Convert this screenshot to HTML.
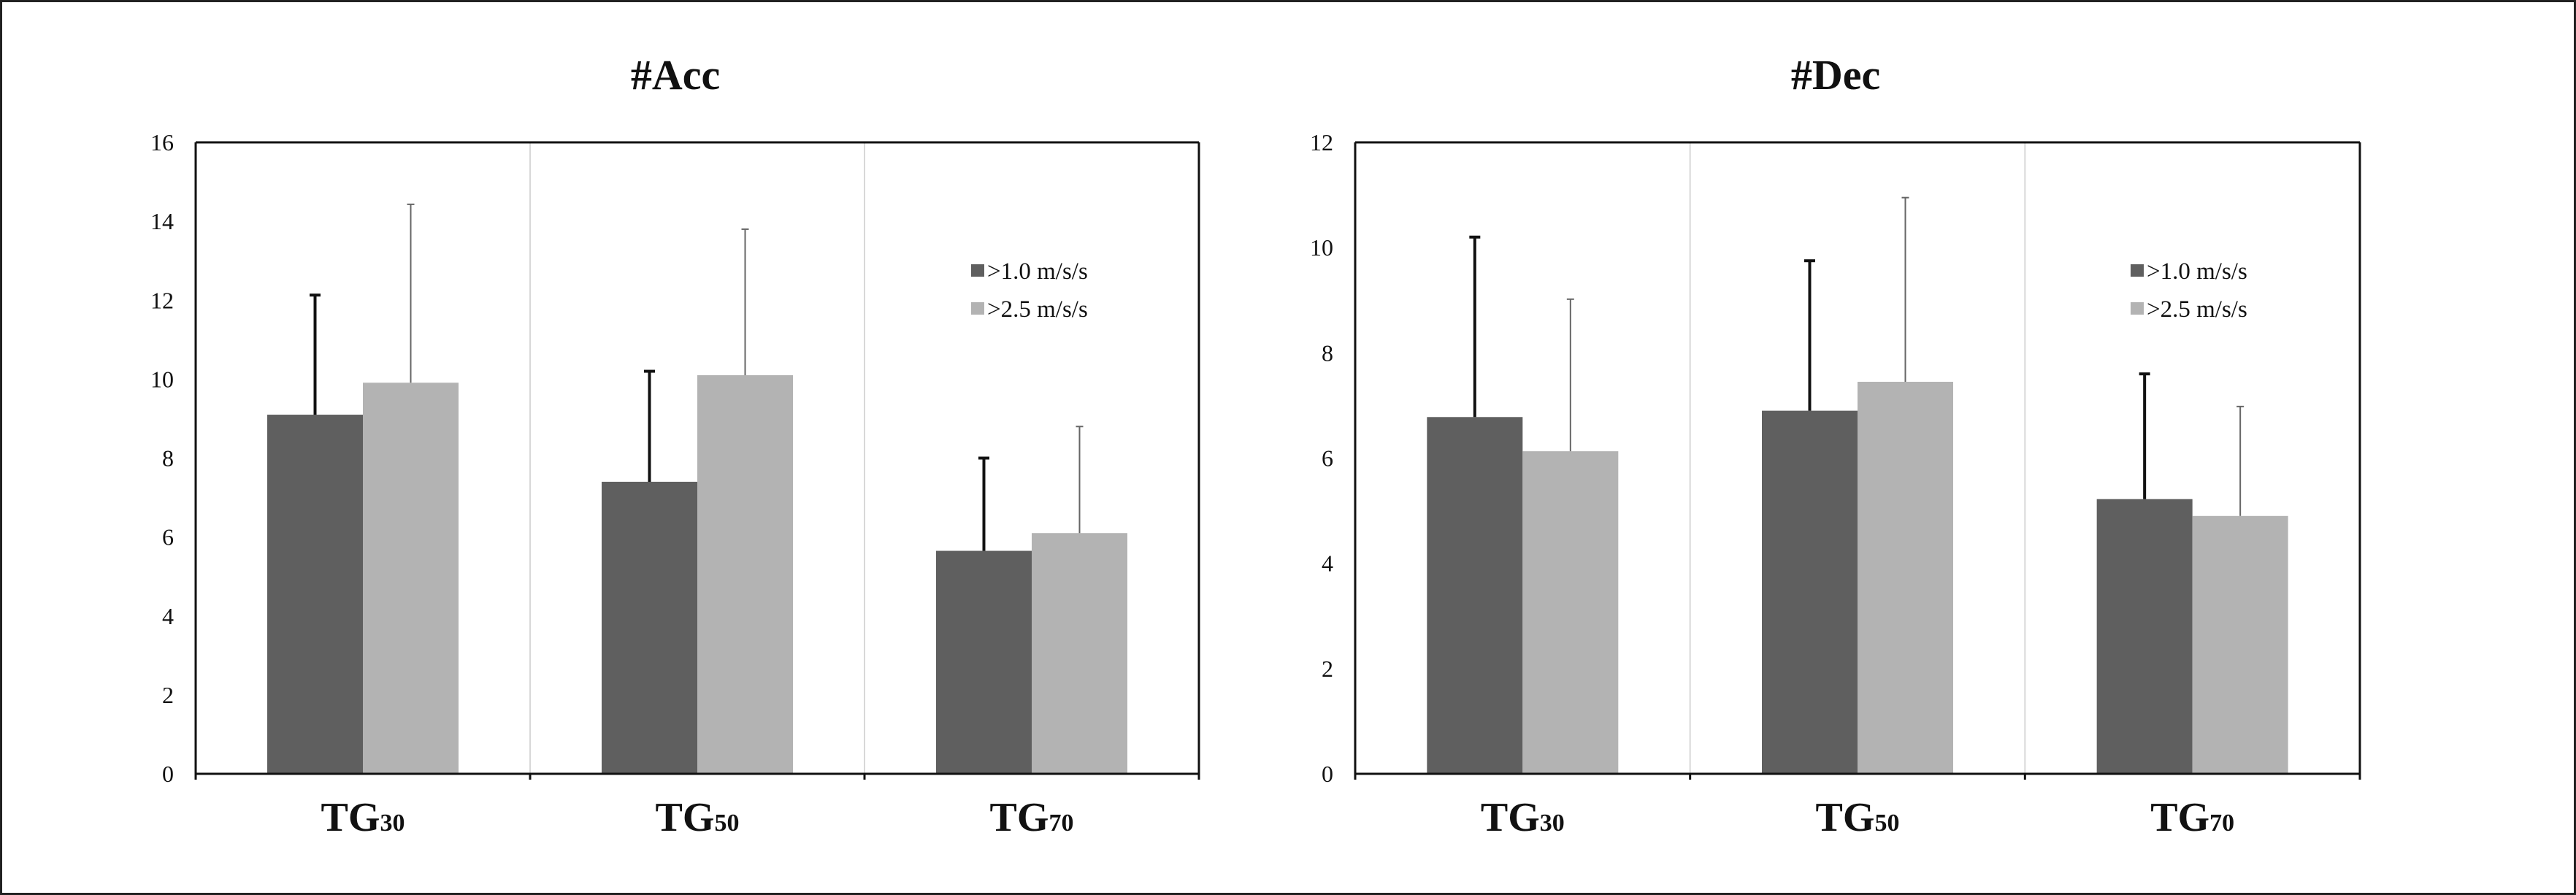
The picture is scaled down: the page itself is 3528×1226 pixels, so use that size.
<!DOCTYPE html>
<html><head><meta charset="utf-8"><style>
html,body{margin:0;padding:0;background:#fff}
svg{display:block}
text{font-family:"Liberation Serif",serif}
</style></head><body>
<svg id="fig" width="3528" height="1226" viewBox="0 0 3528 1226" xmlns="http://www.w3.org/2000/svg">
<rect x="1.5" y="1.5" width="3525" height="1223" fill="#fff" stroke="#222" stroke-width="3"/>
<g id="chartA"></g>
<g id="chartB"></g>
</svg>
<script>
const categories = ["30", "50", "70"];
const seriesNames = [">1.0 m/s/s", ">2.5 m/s/s"];
const accLow = [9.1, 7.4, 5.65];
const accLowErr = [12.13, 10.2, 8.0];
const accHigh = [9.91, 10.1, 6.1];
const accHighErr = [14.43, 13.8, 8.8];
const decLow = [6.78, 6.9, 5.22];
const decLowErr = [10.2, 9.75, 7.6];
const decHigh = [6.13, 7.45, 4.9];
const decHighErr = [9.02, 10.95, 6.98];
const accTicks = [0, 2, 4, 6, 8, 10, 12, 14, 16];
const decTicks = [0, 2, 4, 6, 8, 10, 12];

const NS = "http://www.w3.org/2000/svg";
function mk(parent, tag, attrs, txt) {
  const e = document.createElementNS(NS, tag);
  for (const k in attrs) e.setAttribute(k, attrs[k]);
  if (txt !== undefined) e.textContent = txt;
  parent.appendChild(e);
  return e;
}

function drawChart(g, cfg) {
  const L = cfg.left, R = cfg.right, T = 195, B = 1060;
  const maxV = cfg.ticks[cfg.ticks.length - 1];
  const y = v => B - (v / maxV) * (B - T);
  const catW = (R - L) / categories.length;
  const xc = i => L + catW * (i + 0.5);
  const barW = 131;

  const title = mk(g, "text", {x: cfg.titleX, y: 122, "text-anchor": "middle", "font-size": 58, "font-weight": "bold", fill: "#111"}, cfg.title);
  
  

  const frame = mk(g, "rect", {x: L, y: T, width: R - L, height: B - T, fill: "#fff", stroke: "none"});
  
  

  for (let i = 1; i < categories.length; i++) {
    const d = mk(g, "line", {x1: L + catW * i, x2: L + catW * i, y1: T, y2: B, stroke: "#d8d8d8", "stroke-width": 2});
    
    
  }

  cfg.ticks.forEach(t => {
    const lb = mk(g, "text", {x: L - 30, y: y(t) + 11, "text-anchor": "end", "font-size": 32, fill: "#111"}, String(t));
    
    
  });

  const series = [
    {vals: cfg.low, err: cfg.lowErr, color: "#5f5f5f", eColor: "#111", eW: 4, cap: 15, off: -barW},
    {vals: cfg.high, err: cfg.highErr, color: "#b3b3b3", eColor: "#666", eW: 2, cap: 10, off: 0}
  ];
  series.forEach((s, si) => {
    s.vals.forEach((v, i) => {
      const bx = xc(i) + s.off;
      const r = mk(g, "rect", {x: bx, y: y(v), width: barW, height: B - y(v), fill: s.color});
      
      
      const cx = bx + barW / 2;
      const el = mk(g, "line", {x1: cx, x2: cx, y1: y(v), y2: y(s.err[i]), stroke: s.eColor, "stroke-width": s.eW});
      
      
      const cp = mk(g, "line", {x1: cx - s.cap / 2, x2: cx + s.cap / 2, y1: y(s.err[i]), y2: y(s.err[i]), stroke: s.eColor, "stroke-width": s.eW});
      
      
    });
  });

  const ax = mk(g, "path", {d: `M${L} ${T} V${B} H${R} V${T}`, fill: "none", stroke: "#111", "stroke-width": 3});
  
  
  const top = mk(g, "line", {x1: L, x2: R, y1: T, y2: T, stroke: "#111", "stroke-width": 3});
  
  
  for (let i = 0; i <= categories.length; i++) {
    const tk = mk(g, "line", {x1: L + catW * i, x2: L + catW * i, y1: B, y2: B + 8, stroke: "#111", "stroke-width": 3});
    
    
  }

  categories.forEach((c, i) => {
    const t = mk(g, "text", {x: xc(i), y: 1138, "text-anchor": "middle", "font-weight": "bold", fill: "#111", "font-size": 56});
    
    
    mk(t, "tspan", {}, "TG");
    mk(t, "tspan", {"font-size": 34}, c);
  });

  const legColors = ["#5f5f5f", "#b3b3b3"];
  seriesNames.forEach((n, i) => {
    const ly = 362 + i * 52;
    const sq = mk(g, "rect", {x: cfg.legX, y: ly, width: 18, height: 17, fill: legColors[i]});
    
    
    const lt = mk(g, "text", {x: cfg.legX + 22, y: ly + 20, "font-size": 33, fill: "#111"}, n);
    
    
  });
}

drawChart(document.getElementById("chartA"), {left: 268, right: 1642, ticks: accTicks, title: "#Acc", titleX: 925, legX: 1330,
  low: accLow, lowErr: accLowErr, high: accHigh, highErr: accHighErr});
drawChart(document.getElementById("chartB"), {left: 1856, right: 3232, ticks: decTicks, title: "#Dec", titleX: 2514, legX: 2918,
  low: decLow, lowErr: decLowErr, high: decHigh, highErr: decHighErr});
</script>
</body></html>
